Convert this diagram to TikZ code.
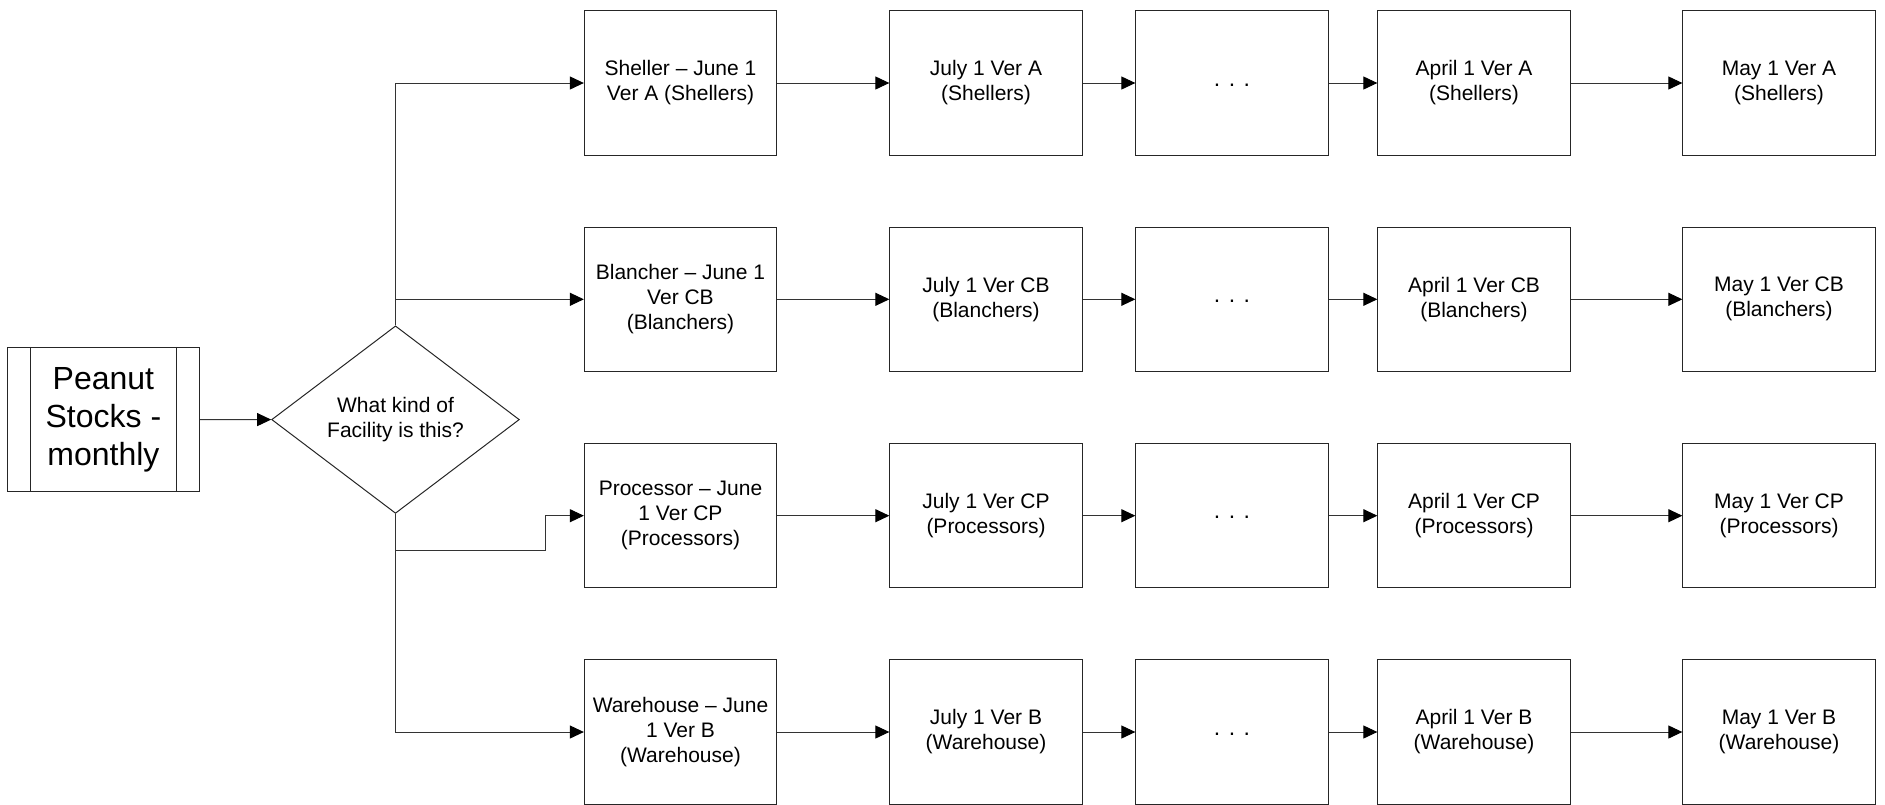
\documentclass[tikz,border=0pt]{standalone}
\usepackage{fontspec}
\setmainfont{Liberation Sans}
\usetikzlibrary{shapes.geometric,arrows.meta}
\begin{document}
\begin{tikzpicture}[x=1pt,y=-1pt,
  box/.style={draw=black!85,line width=1pt,minimum width=192.3pt,minimum height=144.3pt,
    inner sep=0pt,align=center,font=\fontsize{21}{25}\selectfont},
  arr/.style={draw=black!80,line width=1pt,-{Triangle[length=14pt,width=13pt,color=black,fill=black]}},
  ln/.style={draw=black!85,line width=1pt}]
\useasboundingbox (0,0) rectangle (1885,804);
\newcommand{\dotsx}{\raisebox{-6pt}{\fontsize{23}{25}\selectfont .\hspace{8.5pt}.\hspace{8.5pt}.}}
% start node
\node[box,font=\fontsize{32}{38}\selectfont] (pp) at (103.4,419.5) {Peanut\\Stocks -\\monthly};
\draw[ln] ([xshift=24pt]pp.north west) -- ([xshift=24pt]pp.south west);
\draw[ln] ([xshift=-24pt]pp.north east) -- ([xshift=-24pt]pp.south east);
% decision
\node[diamond,draw=black!85,line width=1pt,aspect=1.32,inner sep=0pt,
  minimum width=247.7pt,minimum height=187.5pt,align=center,
  font=\fontsize{21}{25}\selectfont] (dia) at (395.5,419.6) {What kind of\\Facility is this?};
% row 1
\node[box] (s1) at (680.5,83) {Sheller – June 1\\Ver A (Shellers)};
\node[box] (s2) at (986,83) {July 1 Ver A\\(Shellers)};
\node[box] (s3) at (1232,83) {\dotsx};
\node[box] (s4) at (1474,83) {April 1 Ver A\\(Shellers)};
\node[box] (s5) at (1779,83) {May 1 Ver A\\(Shellers)};
% row 2
\node[box] (b1) at (680.5,299.3) {Blancher – June 1\\Ver CB\\(Blanchers)};
\node[box] (b2) at (986,299.3) {July 1 Ver CB\\(Blanchers)};
\node[box] (b3) at (1232,299.3) {\dotsx};
\node[box] (b4) at (1474,299.3) {April 1 Ver CB\\(Blanchers)};
\node[box] (b5) at (1779,299.3) {May 1 Ver CB\\(Blanchers)};
% row 3
\node[box] (p1) at (680.5,515.7) {Processor – June\\1 Ver CP\\(Processors)};
\node[box] (p2) at (986,515.7) {July 1 Ver CP\\(Processors)};
\node[box] (p3) at (1232,515.7) {\dotsx};
\node[box] (p4) at (1474,515.7) {April 1 Ver CP\\(Processors)};
\node[box] (p5) at (1779,515.7) {May 1 Ver CP\\(Processors)};
% row 4
\node[box] (w1) at (680.5,732) {Warehouse – June\\1 Ver B\\(Warehouse)};
\node[box] (w2) at (986,732) {July 1 Ver B\\(Warehouse)};
\node[box] (w3) at (1232,732) {\dotsx};
\node[box] (w4) at (1474,732) {April 1 Ver B\\(Warehouse)};
\node[box] (w5) at (1779,732) {May 1 Ver B\\(Warehouse)};
% connectors
\draw[arr] (pp.east) -- (dia.west);
\draw[arr] (dia.north) |- (s1.west);
\draw[arr] (dia.north) |- (b1.west);
\coordinate (pk) at (545.8,550.6);
\draw[arr] (dia.south) |- (pk) |- (p1.west);
\draw[arr] (dia.south) |- (w1.west);
\foreach \r in {s,b,p,w}{
  \draw[arr] (\r1.east) -- (\r2.west);
  \draw[arr] (\r2.east) -- (\r3.west);
  \draw[arr] (\r3.east) -- (\r4.west);
  \draw[arr] (\r4.east) -- (\r5.west);
}
\end{tikzpicture}
\end{document}
